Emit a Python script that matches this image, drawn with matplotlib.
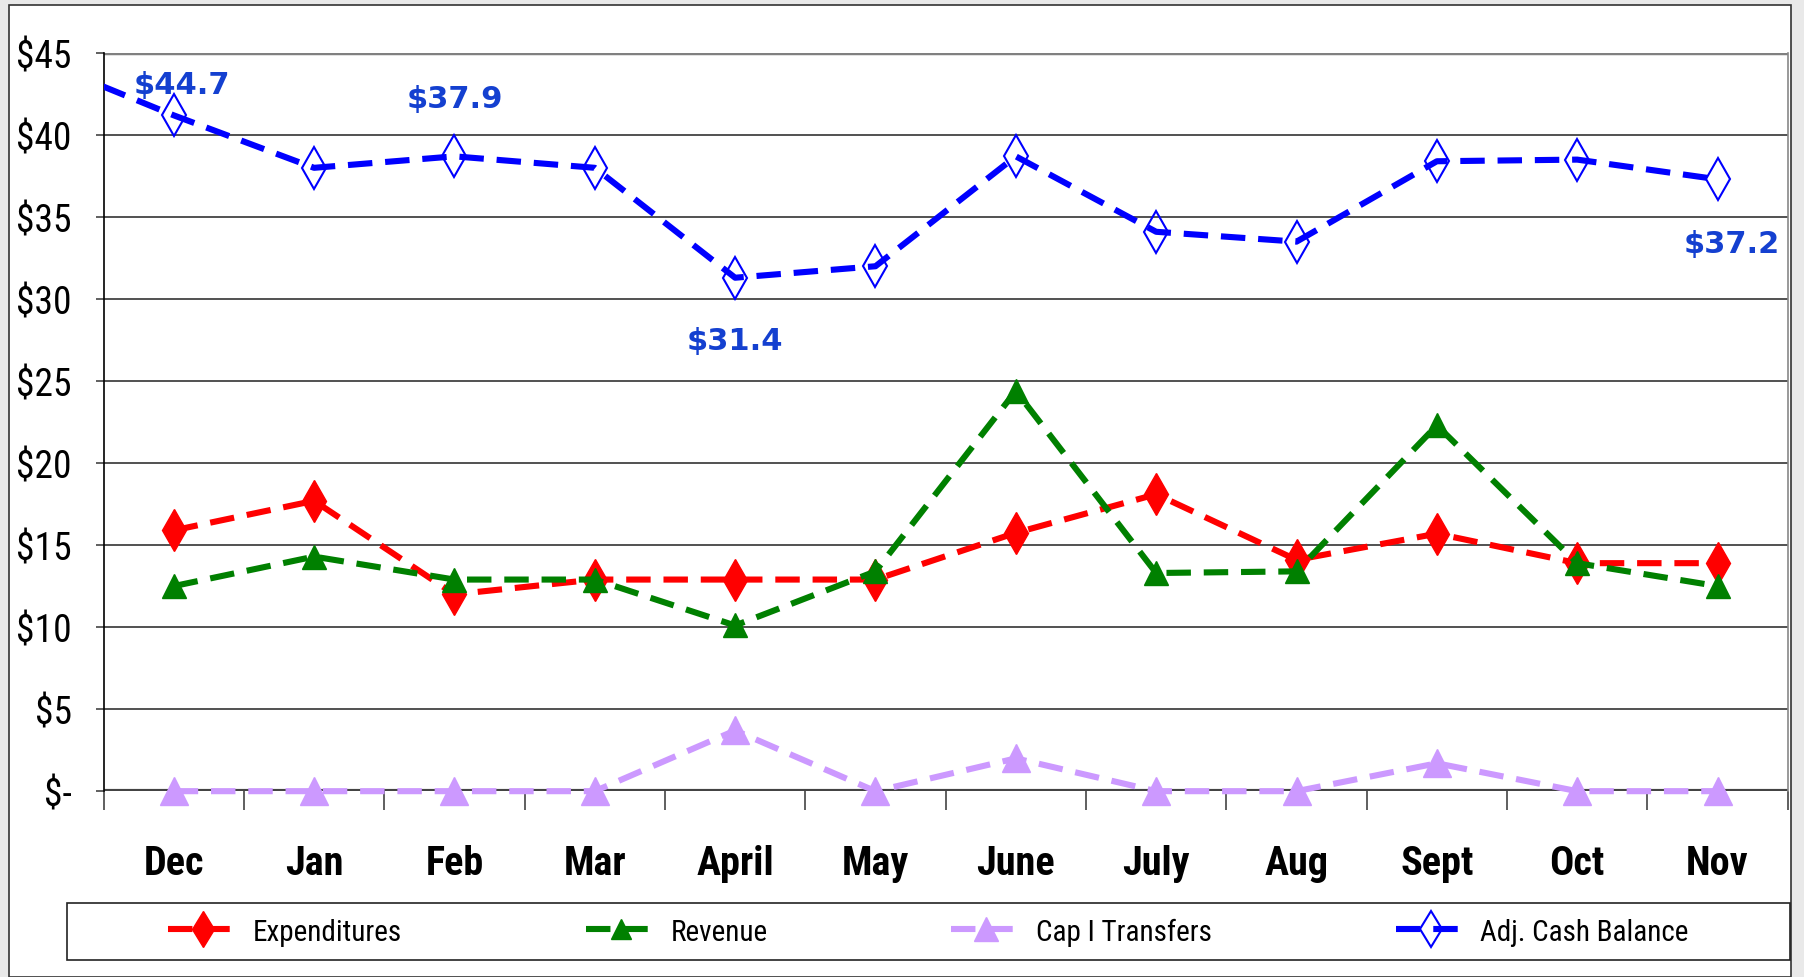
import matplotlib
matplotlib.use("Agg")
import matplotlib.pyplot as plt
from matplotlib import font_manager
from matplotlib.patches import Rectangle

months = ["Dec", "Jan", "Feb", "Mar", "April", "May", "June", "July", "Aug", "Sept", "Oct", "Nov"]
expenditures = [15.9, 17.7, 12.0, 12.9, 12.9, 12.9, 15.75, 18.1, 14.1, 15.7, 13.9, 13.9]
revenue = [12.5, 14.3, 12.9, 12.9, 10.1, 13.4, 24.4, 13.3, 13.4, 22.3, 13.9, 12.5]
cap_transfers = [0, 0, 0, 0, 3.7, 0, 2.0, 0, 0, 1.7, 0, 0]
cash_prev = 44.7  # prior month, runs off the left edge
cash_balance = [41.2, 38.0, 38.7, 38.0, 31.3, 32.0, 38.7, 34.1, 33.5, 38.4, 38.5, 37.3]

label_text = ["$44.7", "$37.9", "$31.4", "$37.2"]
label_x = [0.06, 2.0, 4.0, 11.1]
label_y = [43.1, 42.2, 27.5, 33.4]

yticks = list(range(0, 50, 5))
ytick_labels = ["$-"] + ["$%d" % v for v in yticks[1:]]

# pick a narrow face if one exists
names = {f.name for f in font_manager.fontManager.ttflist}
narrow, stretch = "DejaVu Sans", "condensed"
for cand in ["Liberation Sans Narrow", "Roboto Condensed", "Open Sans Condensed"]:
    if cand in names:
        narrow, stretch = cand, "normal"
        break

fig = plt.figure(figsize=(18.04, 9.78), dpi=100, facecolor="#e9e9e9")
fig.patches.append(Rectangle((0.005, 0.0), 0.988, 0.994, transform=fig.transFigure,
                             facecolor="white", edgecolor="#333333", lw=1.2, zorder=-5))
ax = fig.add_axes([0.0574, 0.190, 0.9336, 0.7548])
ax.patch.set_alpha(0)

x = list(range(len(months)))
dash = (4.0, 2.1)
lw = 4.4
ax.plot(x, expenditures, color="#ff0000", lw=lw, dashes=dash, marker="d", ms=21,
        mec="#ff0000", mfc="#ff0000", label="Expenditures", zorder=4, clip_on=False)
ax.plot(x, revenue, color="#008000", lw=lw, dashes=dash, marker="^", ms=17,
        mec="#008000", mfc="#008000", label="Revenue", zorder=4, clip_on=False)
ax.plot(x, cap_transfers, color="#cc99ff", lw=lw, dashes=dash, marker="^", ms=20,
        mec="#cc99ff", mfc="#cc99ff", label="Cap I Transfers", zorder=4, clip_on=False)
ax.plot([-1] + x, [cash_prev] + cash_balance, color="#0000ff", lw=lw, dashes=dash,
        marker="d", ms=21, mec="#0000ff", mfc="none", mew=1.5, markevery=list(range(1, 13)),
        label="Adj. Cash Balance", zorder=5)

for t, lx, ly in zip(label_text, label_x, label_y):
    ax.text(lx, ly, t, color="#1440d0", fontsize=22, fontweight="bold",
            family="DejaVu Sans", ha="center", va="center", clip_on=False, zorder=6)

ax.set_xlim(-0.5, 11.5)
ax.set_ylim(0, 45)

for v in yticks[1:-1]:
    ax.axhline(v, color="#222222", lw=1.1, zorder=1)
ax.axhline(45, color="#808080", lw=2.5, zorder=1)
ax.axhline(0, color="#444444", lw=3, zorder=2)

for s in ["top", "bottom"]:
    ax.spines[s].set_visible(False)
ax.spines["left"].set_color("#000000")
ax.spines["left"].set_linewidth(1.2)
ax.spines["right"].set_color("#888888")
ax.spines["right"].set_linewidth(1.2)

ax.set_yticks(yticks)
ax.set_yticklabels(ytick_labels, family=narrow, stretch=stretch, fontsize=27)
ax.tick_params(axis="y", length=6, width=1.2, color="#444444", pad=17)

ax.set_xticks(x)
ax.set_xticklabels(months, family=narrow, stretch=stretch, fontsize=29, fontweight="bold")
ax.set_xticks([i - 0.5 for i in range(13)], minor=True)
ax.tick_params(axis="x", which="major", length=0, pad=38)
ax.tick_params(axis="x", which="minor", length=14, width=1.2, color="#444444")

fig.patches.append(Rectangle((0.0371, 0.0174), 0.9551, 0.0583, transform=fig.transFigure,
                             facecolor="none", edgecolor="#222222", lw=1.2))
handles, labels = ax.get_legend_handles_labels()
fig.legend(handles, labels, loc="center", bbox_to_anchor=(0.5147, 0.0465), ncol=4,
           frameon=False, prop={"family": narrow, "stretch": stretch, "size": 21},
           handlelength=2.4, handletextpad=0.5, columnspacing=6.3, markerscale=0.85)

fig.savefig("out.png", dpi=100, facecolor=fig.get_facecolor())
